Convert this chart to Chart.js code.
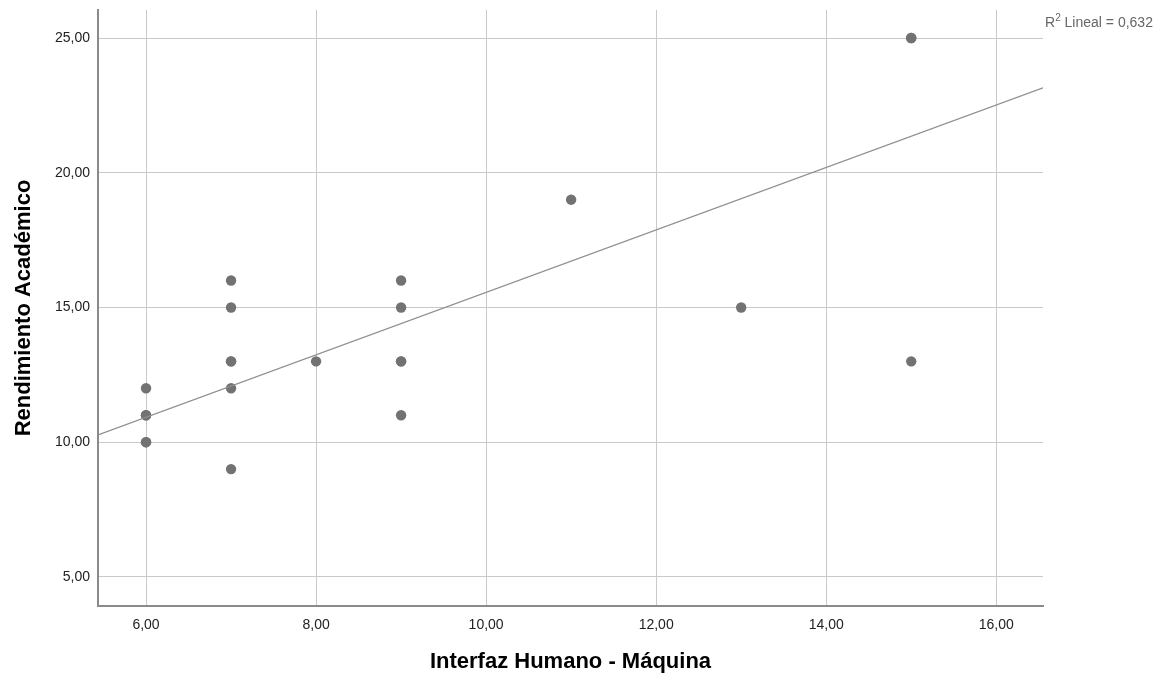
<!DOCTYPE html>
<html>
<head>
<meta charset="utf-8">
<script src="https://cdn.jsdelivr.net/npm/chart.js@4/dist/chart.umd.min.js"></script>
<style>
  body { margin: 0; background: #fff; }
  #wrap { position: relative; width: 1170px; height: 679px; }
  #r2 {
    position: absolute; left: 1045px; top: 14px;
    font: 14px "Liberation Sans", Arial, sans-serif; color: #666;
    white-space: nowrap;
  }
  #r2 sup { font-size: 10px; vertical-align: 6px; line-height: 0; }
</style>
</head>
<body>
<div id="wrap">
  <canvas id="scatter" width="1170" height="679"></canvas>
  <div id="r2">R<sup>2</sup> Lineal = 0,632</div>
</div>
<script>
// puntos observados (algunos repetidos)
var interfaz    = [6, 6, 6, 6, 6, 7, 7, 7, 7, 7, 7, 8, 9, 9, 9, 9, 9, 11, 13, 15, 15, 15];
var rendimiento = [12, 11, 11, 10, 10, 16, 15, 13, 13, 12, 9, 13, 16, 15, 13, 13, 11, 19, 15, 25, 25, 13];

var ajusteX = [5.435, 16.55];
var ajusteY = [10.27, 23.15];

var xTicks = [6, 8, 10, 12, 14, 16];
var yTicks = [5, 10, 15, 20, 25];

var xMin = 5.435, xMax = 16.55;
var yMin = 3.92, yMax = 26.04;

var fuente = "'Liberation Sans', Arial, sans-serif";

function coma(v) {
    return Number(v).toFixed(2).replace('.', ',');
}

var puntos = interfaz.map((x, i) => ({ x: x, y: rendimiento[i] }));
var recta = ajusteX.map((x, i) => ({ x: x, y: ajusteY[i] }));

var ctx = document.getElementById("scatter");

var grafico = new Chart(ctx, {
    type: 'scatter',
    data: {
        datasets: [{
            label: "Ajuste",
            type: 'line',
            data: recta,
            borderColor: "#8e8e8e",
            borderWidth: 1.2,
            pointRadius: 0,
            fill: false
        }, {
            label: "Observado",
            data: puntos,
            backgroundColor: "#727272",
            borderWidth: 0,
            pointRadius: 5.2
        }]
    },
    options: {
        responsive: false,
        animation: false,
        layout: { padding: { top: 10, right: 127, left: 0, bottom: 0 } },
        plugins: { legend: { display: false }, tooltip: { enabled: false } },
        scales: {
            x: {
                type: 'linear',
                min: xMin, max: xMax,
                afterBuildTicks: s => { s.ticks = xTicks.map(v => ({ value: v })); },
                afterFit: s => { s.height = 73; s.paddingLeft = 0; s.paddingRight = 0; },
                grid: { color: "#c9c9c9", lineWidth: 1, drawTicks: false },
                border: { color: "#8a8a8a", width: 2 },
                ticks: { padding: 11, color: "#222", font: { family: fuente, size: 14 }, callback: coma, maxRotation: 0 },
                title: { display: true, text: "Interfaz Humano - Máquina", color: "#000",
                         font: { family: fuente, size: 22, weight: 'bold' }, padding: { top: 3 } }
            },
            y: {
                type: 'linear',
                min: yMin, max: yMax,
                afterBuildTicks: s => { s.ticks = yTicks.map(v => ({ value: v })); },
                afterFit: s => { s.width = 98; s.paddingTop = 0; s.paddingBottom = 0; },
                grid: { color: "#c9c9c9", lineWidth: 1, drawTicks: false },
                border: { color: "#8a8a8a", width: 2 },
                ticks: { padding: 8, color: "#222", font: { family: fuente, size: 14 }, callback: coma },
                title: { display: true, text: "Rendimiento Académico", color: "#000",
                         font: { family: fuente, size: 22, weight: 'bold' }, padding: { top: 11 } }
            }
        }
    }
});
</script>
</body>
</html>
